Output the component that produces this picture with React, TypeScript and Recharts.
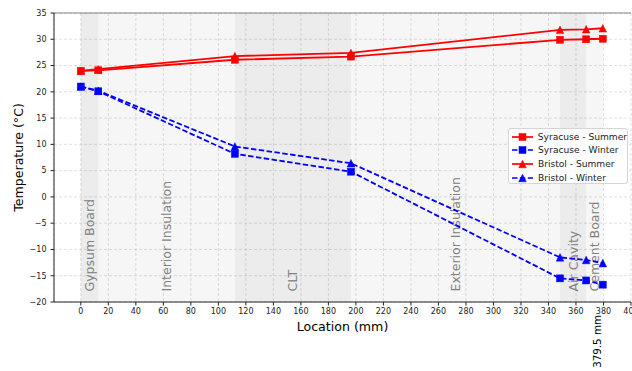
import React from "react";
import {
  ComposedChart, Line, XAxis, YAxis, CartesianGrid, ReferenceArea, ReferenceLine, Legend,
} from "recharts";

// layer boundaries through the wall (mm), also where temperatures were computed
const locations = [0, 12.7, 112, 196.4, 348.4, 367.4, 379.5];
const layerNames = [
  "Gypsum Board", "Interior Insulation", "CLT", "Exterior Insulation", "Air Cavity", "Cement Board",
];

const syracuseSummer = [24.0, 24.1, 26.1, 26.7, 29.9, 30.0, 30.1];
const syracuseWinter = [21.0, 20.1, 8.2, 4.8, -15.5, -15.9, -16.7];
const bristolSummer = [24.0, 24.3, 26.8, 27.4, 31.8, 31.9, 32.1];
const bristolWinter = [21.0, 20.2, 9.6, 6.4, -11.5, -12.0, -12.6];

const xTicks = [0, 20, 40, 60, 80, 100, 120, 140, 160, 180, 200, 220, 240, 260, 280, 300, 320, 340, 360, 380, 400];
const yTicks = [-20, -15, -10, -5, 0, 5, 10, 15, 20, 25, 30, 35];

const data = locations.map((x, i) => ({
  x,
  syrS: syracuseSummer[i],
  syrW: syracuseWinter[i],
  briS: bristolSummer[i],
  briW: bristolWinter[i],
}));

const series = [
  { key: "syrS", name: "Syracuse - Summer", color: "#ff0000", shape: "square", dash: undefined },
  { key: "syrW", name: "Syracuse - Winter", color: "#0000ff", shape: "square", dash: "5.5 2.4" },
  { key: "briS", name: "Bristol - Summer", color: "#ff0000", shape: "triangle", dash: undefined },
  { key: "briW", name: "Bristol - Winter", color: "#0000ff", shape: "triangle", dash: "5.5 2.4" },
];

const FONT = "DejaVu Sans, sans-serif";

function Marker({ cx, cy, color, shape }: any) {
  if (cx == null || cy == null) return null;
  if (shape === "square") {
    return <rect x={cx - 3.5} y={cy - 3.5} width={7} height={7} fill={color} stroke={color} strokeWidth={0.5} />;
  }
  const h = 3.8;
  return (
    <polygon
      points={`${cx},${cy - h} ${cx - h},${cy + h} ${cx + h},${cy + h}`}
      fill={color} stroke={color} strokeWidth={0.5}
    />
  );
}

function BandLabel(props: any) {
  const { viewBox, text } = props;
  if (!viewBox) return null;
  const cx = viewBox.x + viewBox.width / 2;
  const bottom = viewBox.y + viewBox.height - 10.5;
  return (
    <text
      transform={`translate(${cx},${bottom}) rotate(-90)`}
      textAnchor="start" dominantBaseline="central"
      fontSize={12.5} fontFamily={FONT} fill="#808080"
    >
      {text}
    </text>
  );
}

function EndLabel(props: any) {
  const { viewBox } = props;
  if (!viewBox) return null;
  const x = viewBox.x - 6;
  const y = viewBox.y + viewBox.height + 13;
  return (
    <text
      transform={`translate(${x},${y}) rotate(-90)`}
      textAnchor="end" dominantBaseline="central"
      fontSize={10.3} fontFamily={FONT} fill="#000"
    >
      379.5 mm
    </text>
  );
}

function XTitle(props: any) {
  const { viewBox } = props;
  return (
    <text x={viewBox.x + viewBox.width / 2} y={viewBox.y + 24} textAnchor="middle" dominantBaseline="central"
      fontSize={12.6} fontFamily={FONT} fill="#000">
      Location (mm)
    </text>
  );
}

function YTitle(props: any) {
  const { viewBox } = props;
  const cy = viewBox.y + viewBox.height / 2;
  return (
    <text transform={`translate(18,${cy}) rotate(-90)`} textAnchor="middle" dominantBaseline="central"
      fontSize={12.6} fontFamily={FONT} fill="#000">
      Temperature (°C)
    </text>
  );
}

function LegendBox() {
  return (
    <div
      style={{
        width: 120, height: 56, boxSizing: "border-box", border: "1px solid #d5d5d5", borderRadius: 3,
        background: "rgba(255,255,255,0.85)", padding: "1px 0 0 2px", fontFamily: FONT, fontSize: 9.1, color: "#222",
      }}
    >
      {series.map((s) => (
        <div key={s.key} style={{ display: "flex", alignItems: "center", height: 13.6 }}>
          <svg width={24} height={12} style={{ display: "block" }}>
            <line x1={1} y1={6} x2={22} y2={6} stroke={s.color} strokeWidth={1.7} strokeDasharray={s.dash} />
            <Marker cx={11.5} cy={6} color={s.color} shape={s.shape} />
          </svg>
          <span style={{ marginLeft: 3, whiteSpace: "nowrap" }}>{s.name}</span>
        </div>
      ))}
    </div>
  );
}

const yFmt = (v: number) => (v < 0 ? "\u2212" + Math.abs(v) : String(v));

export default function App() {
  return (
    <div style={{ position: "absolute", left: 0, top: 0 }}>
      <ComposedChart width={632} height={371} data={data} margin={{ top: 13, right: 1, bottom: 0, left: 0 }}>
        {layerNames.map((name, i) => (
          <ReferenceArea
            key={name}
            x1={locations[i]} x2={locations[i + 1]}
            fill="#000" fillOpacity={i % 2 === 0 ? 0.075 : 0.035} stroke="none"
            label={<BandLabel text={name} />}
          />
        ))}
        <CartesianGrid strokeDasharray="3 2" stroke="#d4d4d4" strokeWidth={0.7} />
        <XAxis
          dataKey="x" type="number" domain={[-19.5, 400]} ticks={xTicks} allowDataOverflow
          height={69} tickSize={3.5} tickMargin={3}
          tick={{ fontSize: 8, fill: "#222", fontFamily: FONT }}
          stroke="#222" interval={0}
          label={<XTitle />}
        />
        <YAxis
          type="number" domain={[-20, 35]} ticks={yTicks} allowDataOverflow
          width={54} tickSize={3.5} tickMargin={4} tickFormatter={yFmt}
          tick={{ fontSize: 8, fill: "#222", fontFamily: FONT }}
          stroke="#222" interval={0}
          label={<YTitle />}
        />
        <ReferenceLine y={35} stroke="#666" strokeWidth={0.8} />
        <ReferenceLine x={379.5} stroke="none" label={<EndLabel />} />
        {series.map((s) => (
          <Line
            key={s.key}
            dataKey={s.key}
            name={s.name}
            stroke={s.color}
            strokeWidth={1.8}
            strokeDasharray={s.dash}
            type="linear"
            isAnimationActive={false}
            dot={(p: any) => <Marker key={`${s.key}-${p.index}`} cx={p.cx} cy={p.cy} color={s.color} shape={s.shape} />}
            activeDot={false}
          />
        ))}
        <Legend
          layout="vertical" align="center" verticalAlign="middle"
          wrapperStyle={{ left: 508, top: 128, width: 120 }}
          content={() => <LegendBox />}
        />
      </ComposedChart>
    </div>
  );
}
